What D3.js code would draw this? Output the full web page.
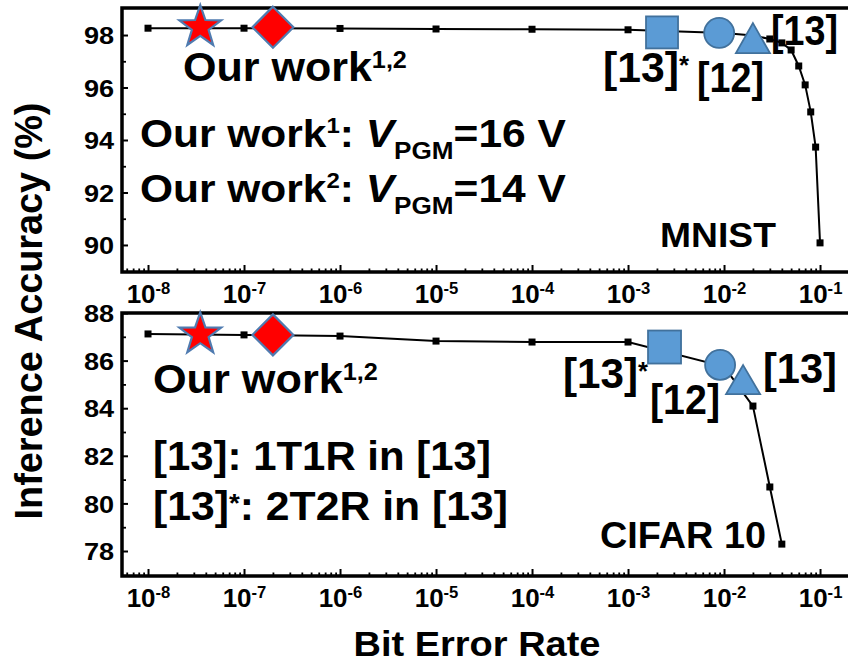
<!DOCTYPE html>
<html>
<head>
<meta charset="utf-8">
<script src="https://cdn.jsdelivr.net/npm/d3@7/dist/d3.min.js"></script>
<style>
  html, body { margin: 0; padding: 0; background: #fff; }
  svg { display: block; font-family: "Liberation Sans", Arial, sans-serif; font-weight: bold; }
  text { white-space: pre; }
</style>
</head>
<body>
<svg id="chart" width="848" height="664"></svg>
<script>
// ---- data ----
// simulated accuracy vs. bit error rate (MNIST)
const mnistBer = [1e-8, 1e-7, 1e-6, 1e-5, 1e-4, 1e-3, 1e-2, 2e-2, 3e-2, 4e-2, 5e-2, 6e-2, 7e-2, 8e-2, 9e-2, 1e-1];
const mnistAcc = [98.26, 98.26, 98.25, 98.23, 98.22, 98.20, 98.08, 97.98, 97.85, 97.70, 97.43, 96.82, 96.10, 95.07, 93.73, 90.08];
// simulated accuracy vs. bit error rate (CIFAR 10)
const cifarBer = [1e-8, 1e-7, 1e-6, 1e-5, 1e-4, 1e-3, 1e-2, 2e-2, 3e-2, 4e-2];
const cifarAcc = [87.12, 87.08, 87.03, 86.82, 86.78, 86.78, 85.75, 84.09, 80.69, 78.29];
// our devices: star = work 1, diamond = work 2
const oursBer = [3.5e-8, 2e-7];
const oursMnistAcc = [98.30, 98.30];
const oursCifarAcc = [87.10, 87.08];
// reference devices: square = [13]*, circle = [12], triangle = [13]
const refNames = ["[13]*", "[12]", "[13]"];
const refMnistBer = [2.26e-3, 8.9e-3, 2.0e-2];
const refMnistAcc = [98.10, 98.08, 97.88];
const refCifarBer = [2.4e-3, 9.1e-3, 1.58e-2];
const refCifarAcc = [86.57, 85.82, 85.20];
// axis ticks
const berExponents = [-8, -7, -6, -5, -4, -3, -2, -1];
const mnistTicks = [90, 92, 94, 96, 98];
const mnistMinor = [91, 93, 95, 97];
const cifarTicks = [78, 80, 82, 84, 86, 88];
const cifarMinor = [79, 81, 83, 85, 87];

// ---- layout ----
const svg = d3.select("#chart");
const X0 = 122, X1 = 852;
const x = d3.scaleLog().domain([Math.pow(10, -8.271), Math.pow(10, -0.667)]).range([X0, X1]);
const panels = [
  { ber: mnistBer, acc: mnistAcc, ours: oursMnistAcc, refBer: refMnistBer, refAcc: refMnistAcc,
    y: d3.scaleLinear().domain([88.97, 99.03]).range([272, 8]), ticks: mnistTicks, minor: mnistMinor,
    sq: 32, cr: 15, tb: 34, th: 30 },
  { ber: cifarBer, acc: cifarAcc, ours: oursCifarAcc, refBer: refCifarBer, refAcc: refCifarAcc,
    y: d3.scaleLinear().domain([76.95, 88.0]).range([576, 313]), ticks: cifarTicks, minor: cifarMinor,
    sq: 33, cr: 15, tb: 34, th: 29 }
];

const minorBer = [];
for (let e = -9; e <= -1; e++) for (let k = 2; k <= 9; k++) {
  const v = k * Math.pow(10, e);
  if (v > x.domain()[0] && v < x.domain()[1]) minorBer.push(v);
}

// text helper: rich text made of parts, stretched horizontally to a target width
function richText(parent, px, py, parts, fs, targetW, opts = {}) {
  const t = parent.append("text")
    .attr("font-size", fs)
    .attr("text-anchor", opts.anchor || "start")
    .attr("fill", "#000");
  let cur = 0;
  parts.forEach(p => {
    const shift = p.shift || 0;
    t.append("tspan")
      .text(p.t)
      .attr("font-size", p.fs || fs)
      .attr("font-style", p.it ? "italic" : null)
      .attr("dy", shift - cur);
    cur = shift;
  });
  const w = t.node().getComputedTextLength();
  const s = targetW ? targetW / w : 1;
  const rot = opts.rotate ? ` rotate(${opts.rotate})` : "";
  t.attr("transform", `translate(${px},${py})${rot} scale(${s},1)`);
  return t;
}

const refColor = "#5b9bd5", refStroke = "#41719c";

panels.forEach(p => {
  const g = svg.append("g");
  const y = p.y;
  const [yb, yt] = y.range();

  // minor x ticks
  g.append("g").attr("transform", `translate(0,${yb})`)
    .call(d3.axisBottom(x).tickValues(minorBer).tickSize(-3.5).tickFormat(""))
    .call(a => a.select(".domain").remove())
    .call(a => a.selectAll("line").attr("stroke", "#000").attr("stroke-width", 1.8));

  // major x ticks with 10^n labels
  const xa = g.append("g").attr("transform", `translate(0,${yb})`)
    .call(d3.axisBottom(x).tickValues(berExponents.map(e => Math.pow(10, e))).tickSize(-7))
    .call(a => a.select(".domain").remove())
    .call(a => a.selectAll("line").attr("stroke", "#000").attr("stroke-width", 2));
  xa.selectAll("text").each(function (d) {
    const t = d3.select(this);
    const e = Math.round(Math.log10(d));
    t.text(null).attr("y", 31).attr("dy", null)
      .attr("font-size", 25).attr("font-family", null).attr("fill", "#000")
      .attr("transform", "scale(1.04,1)");
    t.append("tspan").text("10");
    t.append("tspan").text(String(e)).attr("font-size", 16).attr("dy", -9);
  });

  // y ticks
  g.append("g").attr("transform", `translate(${X0},0)`)
    .call(d3.axisLeft(y).tickValues(p.minor).tickSize(-4).tickFormat(""))
    .call(a => a.select(".domain").remove())
    .call(a => a.selectAll("line").attr("stroke", "#000").attr("stroke-width", 1.8));
  const ya = g.append("g").attr("transform", `translate(${X0},0)`)
    .call(d3.axisLeft(y).tickValues(p.ticks).tickSize(-6).tickPadding(7))
    .call(a => a.select(".domain").remove())
    .call(a => a.selectAll("line").attr("stroke", "#000").attr("stroke-width", 2));
  ya.selectAll("text")
    .attr("font-size", 24).attr("font-family", null).attr("fill", "#000")
    .attr("dy", "0.36em")
    .attr("transform", "scale(1.13,1)");

  // frame (right side runs past the canvas edge)
  g.append("rect")
    .attr("x", X0).attr("y", yt)
    .attr("width", X1 - X0).attr("height", yb - yt)
    .attr("fill", "none").attr("stroke", "#000").attr("stroke-width", 3.5);

  // simulated curve
  const pts = p.ber.map((b, i) => [x(b), y(p.acc[i])]);
  g.append("path")
    .attr("d", d3.line()(pts))
    .attr("fill", "none").attr("stroke", "#000").attr("stroke-width", 2);
  g.selectAll(".pt").data(pts).join("rect")
    .attr("x", d => d[0] - 3.5).attr("y", d => d[1] - 3.5)
    .attr("width", 7).attr("height", 7).attr("fill", "#000");

  // our work: star + diamond
  const sx = x(oursBer[0]), sy = y(p.ours[0]);
  const R = 22, r = R * 0.4;
  const star = d3.range(10).map(i => {
    const a = -Math.PI / 2 + i * Math.PI / 5;
    const rr = i % 2 ? r : R;
    return [sx + rr * Math.cos(a), sy + rr * Math.sin(a)];
  });
  g.append("path").attr("d", d3.line()(star) + "Z")
    .attr("fill", "#ff0000").attr("stroke", "#4f7bb0").attr("stroke-width", 2.2).attr("stroke-linejoin", "miter");
  const dx = x(oursBer[1]), dyy = y(p.ours[1]), H = 20.5;
  g.append("path")
    .attr("d", d3.line()([[dx, dyy - H], [dx + H, dyy], [dx, dyy + H], [dx - H, dyy]]) + "Z")
    .attr("fill", "#ff0000").attr("stroke", "#4f7bb0").attr("stroke-width", 2.2);

  // reference works: square, circle, triangle
  const qx = x(p.refBer[0]), qy = y(p.refAcc[0]);
  g.append("rect").attr("x", qx - p.sq / 2).attr("y", qy - p.sq / 2)
    .attr("width", p.sq).attr("height", p.sq)
    .attr("fill", refColor).attr("stroke", refStroke).attr("stroke-width", 1.8);
  g.append("circle").attr("cx", x(p.refBer[1])).attr("cy", y(p.refAcc[1])).attr("r", p.cr)
    .attr("fill", refColor).attr("stroke", refStroke).attr("stroke-width", 1.8);
  const tx = x(p.refBer[2]), ty = y(p.refAcc[2]);
  g.append("path")
    .attr("d", d3.line()([[tx, ty - p.th / 2], [tx + p.tb / 2, ty + p.th / 2], [tx - p.tb / 2, ty + p.th / 2]]) + "Z")
    .attr("fill", refColor).attr("stroke", refStroke).attr("stroke-width", 1.8);
});

// ---- annotations ----
const ann = svg.append("g");
const sup12 = [{ t: "Our work" }, { t: "1,2", fs: 24, shift: -13 }];
// MNIST panel
richText(ann, 183, 81, sup12, 41, 224);
richText(ann, 140, 147, [{ t: "Our work" }, { t: "1", fs: 22, shift: -14 }, { t: ": " },
  { t: "V", it: true }, { t: "PGM", fs: 24, shift: 12 }, { t: "=16 V" }], 39, 426);
richText(ann, 140, 202, [{ t: "Our work" }, { t: "2", fs: 22, shift: -14 }, { t: ": " },
  { t: "V", it: true }, { t: "PGM", fs: 24, shift: 12 }, { t: "=14 V" }], 39, 426);
richText(ann, 660, 247, [{ t: "MNIST" }], 36, 116);
richText(ann, 603, 82, [{ t: refNames[0].slice(0, 4) }, { t: "*", fs: 26, shift: -8 }], 43, 86);
richText(ann, 697, 92, [{ t: refNames[1] }], 43, 67);
richText(ann, 771, 45, [{ t: refNames[2] }], 43, 67);
// CIFAR 10 panel
richText(ann, 153, 393, sup12, 41, 225);
richText(ann, 563, 388, [{ t: refNames[0].slice(0, 4) }, { t: "*", fs: 26, shift: -8 }], 43, 85);
richText(ann, 650, 414, [{ t: refNames[1] }], 43, 70);
richText(ann, 763, 383, [{ t: refNames[2] }], 43, 74);
richText(ann, 600, 548, [{ t: "CIFAR 10" }], 36, 166);
richText(ann, 153, 470, [{ t: "[13]: 1T1R in [13]" }], 40, 338);
richText(ann, 153, 520, [{ t: "[13]" }, { t: "*", fs: 26, shift: -8 }, { t: ": 2T2R in [13]" }], 40, 355);

// axis titles
richText(svg, 477, 656, [{ t: "Bit Error Rate" }], 35, 247, { anchor: "middle" });
richText(svg, 42, 311, [{ t: "Inference Accuracy (%)" }], 38, 417, { anchor: "middle", rotate: -90 });
</script>
</body>
</html>
